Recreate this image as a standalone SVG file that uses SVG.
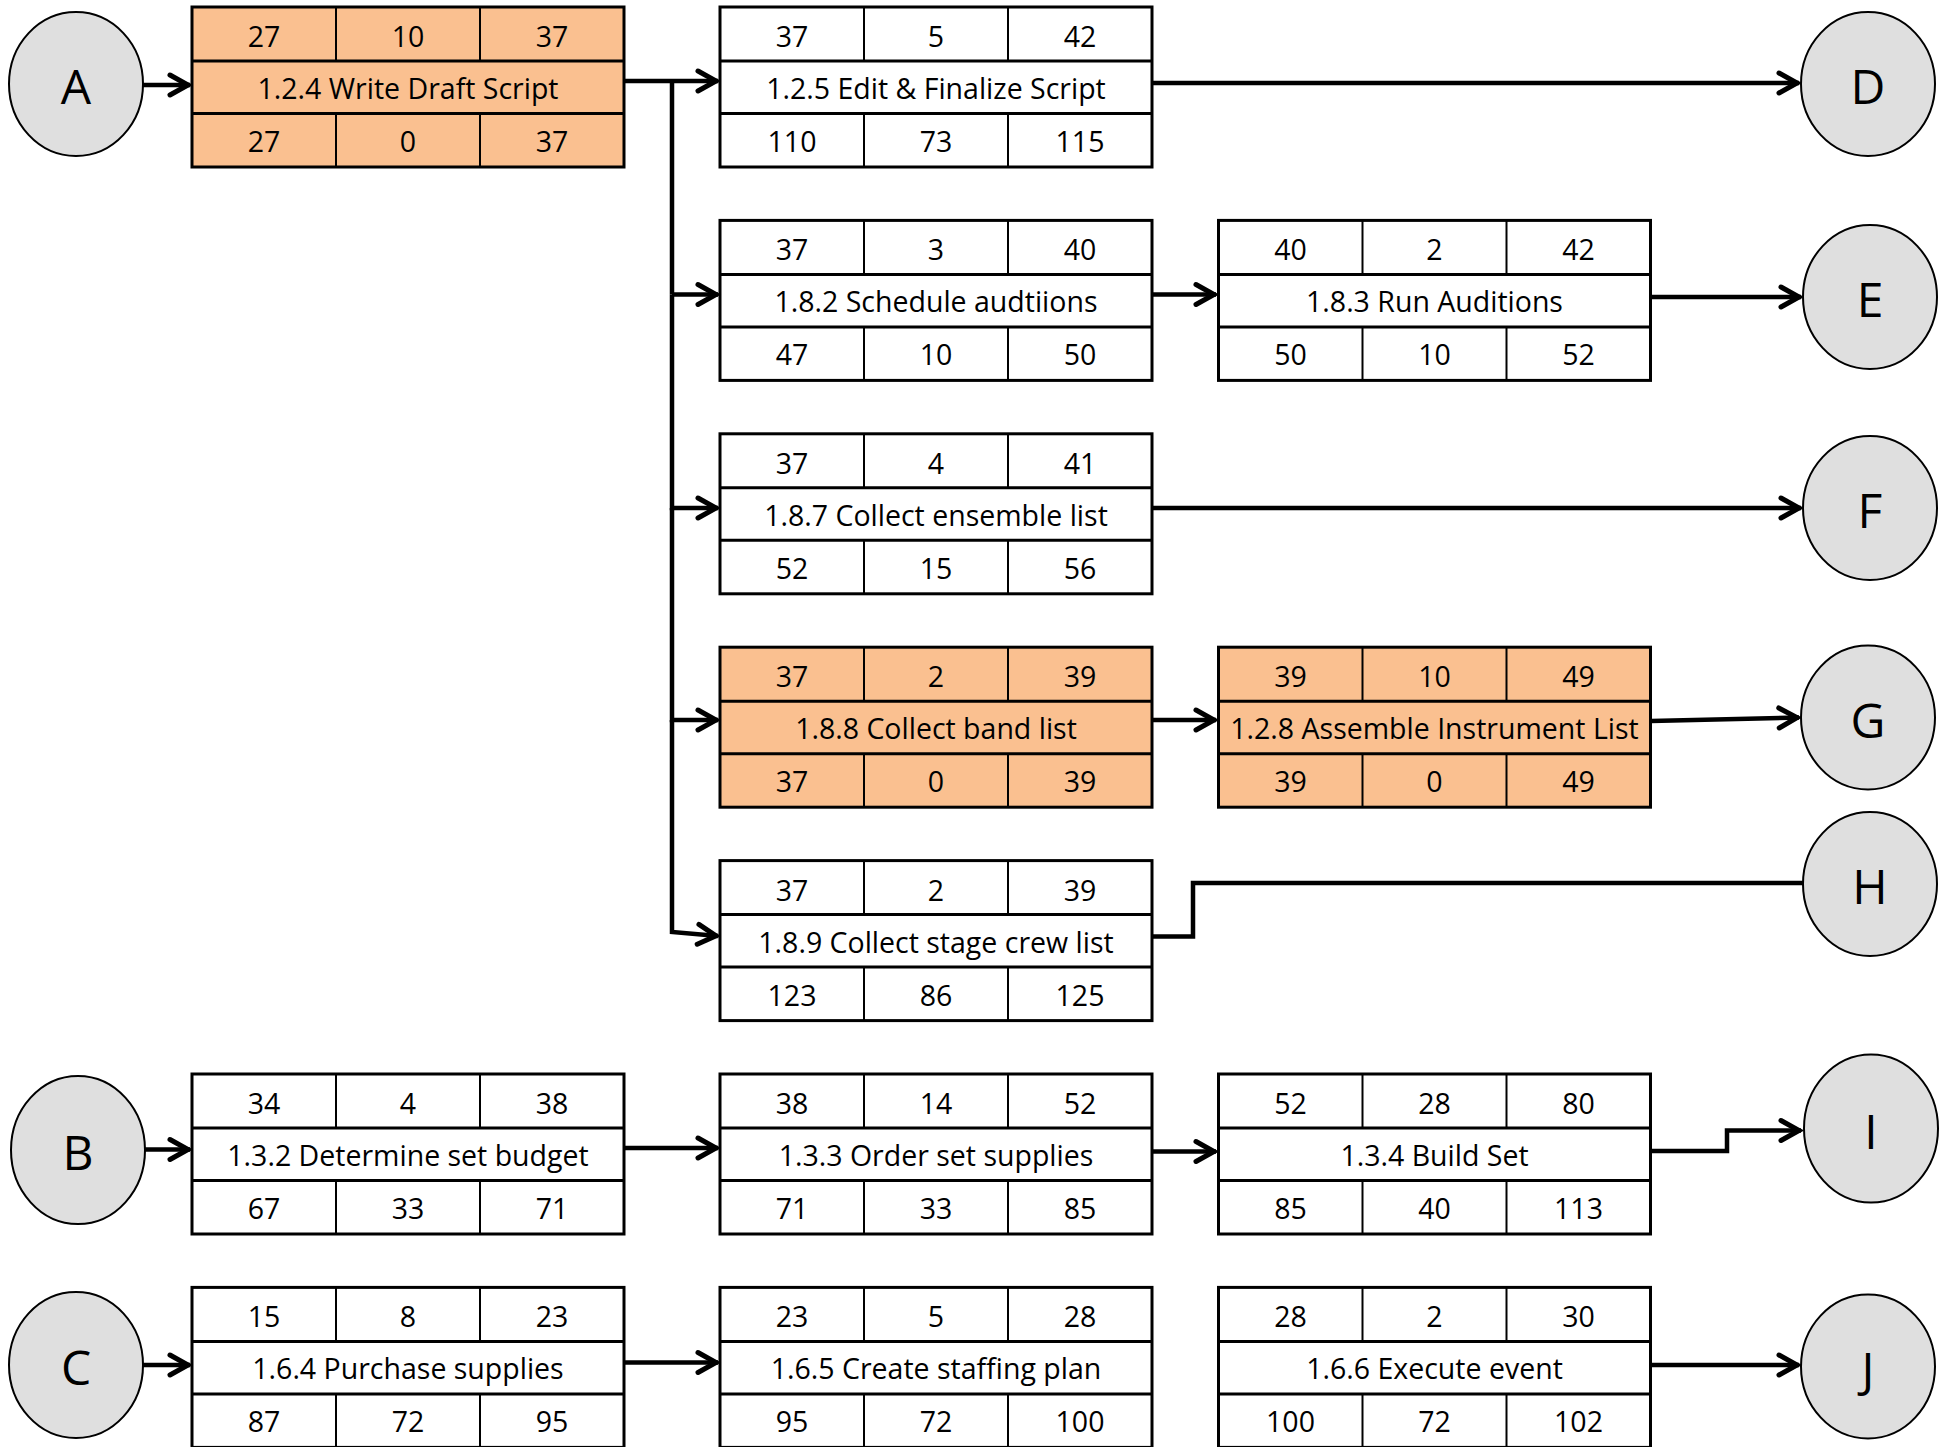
<svg xmlns="http://www.w3.org/2000/svg" width="1948" height="1447" viewBox="0 0 1948 1447">
<style>
  .box { stroke: #000; stroke-width: 3; fill: inherit; }
  use { fill: #fff; }
  .crit use { fill: #FAC090; }
  .hl { stroke: #000; stroke-width: 3; }
  .vl { stroke: #000; stroke-width: 2; }
  .t { font-family: "Open Sans", "Liberation Sans", sans-serif; font-size: 28.5px; fill: #000; text-anchor: middle; }
  .ev ellipse { fill: #DFDFDF; stroke: #000; stroke-width: 2; }
  .ev text { font-family: "Open Sans", "Liberation Sans", sans-serif; font-size: 48px; fill: #000; text-anchor: middle; }
  .c { fill: none; stroke: #000; stroke-width: 4.5; stroke-linejoin: miter; }
  .ca { marker-end: url(#arr); }
</style>
<defs>
  <marker id="arr" markerUnits="userSpaceOnUse" markerWidth="40" markerHeight="40" viewBox="-30 -20 40 40" refX="1" refY="0" orient="auto" overflow="visible">
    <path d="M-19,-10 L-1,0 L-19,10" fill="none" stroke="#000" stroke-width="5" stroke-linecap="round" stroke-linejoin="miter"/>
  </marker>
  <g id="grid">
    <rect class="box" x="0" y="0" width="432" height="160"/>
    <line class="hl" x1="0" y1="54" x2="432" y2="54"/>
    <line class="hl" x1="0" y1="106.5" x2="432" y2="106.5"/>
    <line class="vl" x1="144" y1="0" x2="144" y2="54"/>
    <line class="vl" x1="288" y1="0" x2="288" y2="54"/>
    <line class="vl" x1="144" y1="106.5" x2="144" y2="160"/>
    <line class="vl" x1="288" y1="106.5" x2="288" y2="160"/>
  </g>
</defs>

<!-- Event circles -->
<g id="evA" class="ev"><ellipse cx="76" cy="84" rx="67" ry="72"/><text x="76" y="104">A</text></g>
<g id="evB" class="ev"><ellipse cx="78" cy="1150" rx="67" ry="74"/><text x="78" y="1170">B</text></g>
<g id="evC" class="ev"><ellipse cx="76" cy="1365" rx="67" ry="73"/><text x="76" y="1385">C</text></g>
<g id="evD" class="ev"><ellipse cx="1868" cy="84" rx="67" ry="72"/><text x="1868" y="104">D</text></g>
<g id="evE" class="ev"><ellipse cx="1870" cy="297" rx="67" ry="72"/><text x="1870" y="317">E</text></g>
<g id="evF" class="ev"><ellipse cx="1870" cy="508" rx="67" ry="72"/><text x="1870" y="528">F</text></g>
<g id="evG" class="ev"><ellipse cx="1868" cy="717.5" rx="67" ry="72"/><text x="1868" y="737.5">G</text></g>
<g id="evH" class="ev"><ellipse cx="1870" cy="884" rx="67" ry="72"/><text x="1870" y="904">H</text></g>
<g id="evI" class="ev"><ellipse cx="1871" cy="1128.5" rx="67" ry="74"/><text x="1871" y="1148.5">I</text></g>
<g id="evJ" class="ev"><ellipse cx="1868" cy="1366.5" rx="67" ry="72"/><text x="1868" y="1386.5">J</text></g>

<!-- Task nodes -->
<g id="t124" class="crit" transform="translate(192,7)"><use href="#grid"/>
  <text class="t" x="72" y="40">27</text><text class="t" x="216" y="40">10</text><text class="t" x="360" y="40">37</text>
  <text class="t" x="216" y="92">1.2.4 Write Draft Script</text>
  <text class="t" x="72" y="145">27</text><text class="t" x="216" y="145">0</text><text class="t" x="360" y="145">37</text></g>

<g id="t125" transform="translate(720,7)"><use href="#grid"/>
  <text class="t" x="72" y="40">37</text><text class="t" x="216" y="40">5</text><text class="t" x="360" y="40">42</text>
  <text class="t" x="216" y="92">1.2.5 Edit &amp; Finalize Script</text>
  <text class="t" x="72" y="145">110</text><text class="t" x="216" y="145">73</text><text class="t" x="360" y="145">115</text></g>

<g id="t182" transform="translate(720,220.4)"><use href="#grid"/>
  <text class="t" x="72" y="40">37</text><text class="t" x="216" y="40">3</text><text class="t" x="360" y="40">40</text>
  <text class="t" x="216" y="92">1.8.2 Schedule audtiions</text>
  <text class="t" x="72" y="145">47</text><text class="t" x="216" y="145">10</text><text class="t" x="360" y="145">50</text></g>

<g id="t183" transform="translate(1218.5,220.4)"><use href="#grid"/>
  <text class="t" x="72" y="40">40</text><text class="t" x="216" y="40">2</text><text class="t" x="360" y="40">42</text>
  <text class="t" x="216" y="92">1.8.3 Run Auditions</text>
  <text class="t" x="72" y="145">50</text><text class="t" x="216" y="145">10</text><text class="t" x="360" y="145">52</text></g>

<g id="t187" transform="translate(720,433.8)"><use href="#grid"/>
  <text class="t" x="72" y="40">37</text><text class="t" x="216" y="40">4</text><text class="t" x="360" y="40">41</text>
  <text class="t" x="216" y="92">1.8.7 Collect ensemble list</text>
  <text class="t" x="72" y="145">52</text><text class="t" x="216" y="145">15</text><text class="t" x="360" y="145">56</text></g>

<g id="t188" class="crit" transform="translate(720,647.2)"><use href="#grid"/>
  <text class="t" x="72" y="40">37</text><text class="t" x="216" y="40">2</text><text class="t" x="360" y="40">39</text>
  <text class="t" x="216" y="92">1.8.8 Collect band list</text>
  <text class="t" x="72" y="145">37</text><text class="t" x="216" y="145">0</text><text class="t" x="360" y="145">39</text></g>

<g id="t128" class="crit" transform="translate(1218.5,647.2)"><use href="#grid"/>
  <text class="t" x="72" y="40">39</text><text class="t" x="216" y="40">10</text><text class="t" x="360" y="40">49</text>
  <text class="t" x="216" y="92">1.2.8 Assemble Instrument List</text>
  <text class="t" x="72" y="145">39</text><text class="t" x="216" y="145">0</text><text class="t" x="360" y="145">49</text></g>

<g id="t189" transform="translate(720,860.6)"><use href="#grid"/>
  <text class="t" x="72" y="40">37</text><text class="t" x="216" y="40">2</text><text class="t" x="360" y="40">39</text>
  <text class="t" x="216" y="92">1.8.9 Collect stage crew list</text>
  <text class="t" x="72" y="145">123</text><text class="t" x="216" y="145">86</text><text class="t" x="360" y="145">125</text></g>

<g id="t132" transform="translate(192,1074)"><use href="#grid"/>
  <text class="t" x="72" y="40">34</text><text class="t" x="216" y="40">4</text><text class="t" x="360" y="40">38</text>
  <text class="t" x="216" y="92">1.3.2 Determine set budget</text>
  <text class="t" x="72" y="145">67</text><text class="t" x="216" y="145">33</text><text class="t" x="360" y="145">71</text></g>

<g id="t133" transform="translate(720,1074)"><use href="#grid"/>
  <text class="t" x="72" y="40">38</text><text class="t" x="216" y="40">14</text><text class="t" x="360" y="40">52</text>
  <text class="t" x="216" y="92">1.3.3 Order set supplies</text>
  <text class="t" x="72" y="145">71</text><text class="t" x="216" y="145">33</text><text class="t" x="360" y="145">85</text></g>

<g id="t134" transform="translate(1218.5,1074)"><use href="#grid"/>
  <text class="t" x="72" y="40">52</text><text class="t" x="216" y="40">28</text><text class="t" x="360" y="40">80</text>
  <text class="t" x="216" y="92">1.3.4 Build Set</text>
  <text class="t" x="72" y="145">85</text><text class="t" x="216" y="145">40</text><text class="t" x="360" y="145">113</text></g>

<g id="t164" transform="translate(192,1287.4)"><use href="#grid"/>
  <text class="t" x="72" y="40">15</text><text class="t" x="216" y="40">8</text><text class="t" x="360" y="40">23</text>
  <text class="t" x="216" y="92">1.6.4 Purchase supplies</text>
  <text class="t" x="72" y="145">87</text><text class="t" x="216" y="145">72</text><text class="t" x="360" y="145">95</text></g>

<g id="t165" transform="translate(720,1287.4)"><use href="#grid"/>
  <text class="t" x="72" y="40">23</text><text class="t" x="216" y="40">5</text><text class="t" x="360" y="40">28</text>
  <text class="t" x="216" y="92">1.6.5 Create staffing plan</text>
  <text class="t" x="72" y="145">95</text><text class="t" x="216" y="145">72</text><text class="t" x="360" y="145">100</text></g>

<g id="t166" transform="translate(1218.5,1287.4)"><use href="#grid"/>
  <text class="t" x="72" y="40">28</text><text class="t" x="216" y="40">2</text><text class="t" x="360" y="40">30</text>
  <text class="t" x="216" y="92">1.6.6 Execute event</text>
  <text class="t" x="72" y="145">100</text><text class="t" x="216" y="145">72</text><text class="t" x="360" y="145">102</text></g>

<!-- Connectors -->
<g id="connectors">
  <path class="c ca" d="M143,85 H190"/>
  <path class="c ca" d="M625,81 H718"/>
  <path class="c" d="M672,81 V294.5"/>
  <path class="c ca" d="M672,294.5 H718"/>
  <path class="c ca" d="M672,294.5 V508 H718"/>
  <path class="c ca" d="M672,508 V720 H718"/>
  <path class="c ca" d="M672,720 V932 L718,936"/>
  <path class="c ca" d="M1153,83 H1799"/>
  <path class="c ca" d="M1153,294.5 H1216"/>
  <path class="c ca" d="M1651,297 H1801"/>
  <path class="c ca" d="M1153,508 H1801"/>
  <path class="c ca" d="M1153,720 H1216"/>
  <path class="c ca" d="M1651,721 L1799,717.5"/>
  <path class="c" d="M1153,936.5 H1193 V883 H1803"/>
  <path class="c ca" d="M145,1149.5 H190"/>
  <path class="c ca" d="M625,1148 H718"/>
  <path class="c ca" d="M1153,1151.5 H1216"/>
  <path class="c ca" d="M1651,1151 H1727 V1130.5 H1801"/>
  <path class="c ca" d="M143,1365 H190"/>
  <path class="c ca" d="M625,1362.5 H718"/>
  <path class="c ca" d="M1649,1365 H1799"/>
</g>
</svg>
